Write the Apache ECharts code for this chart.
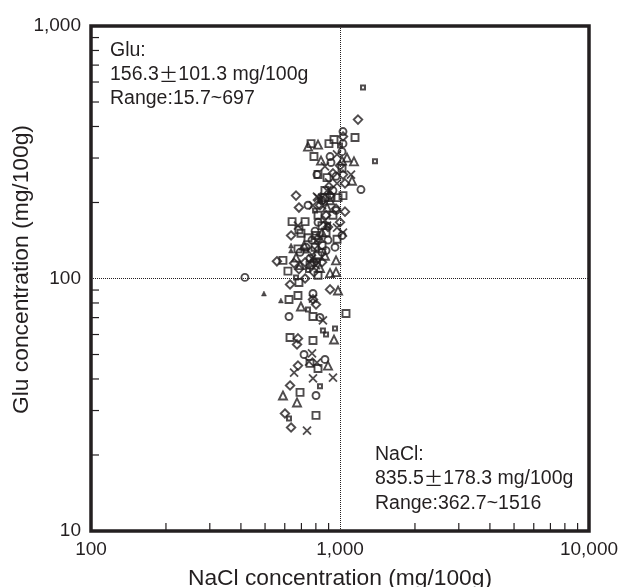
<!DOCTYPE html>
<html>
<head>
<meta charset="utf-8">
<style>html,body{margin:0;padding:0;background:#fff}#chart{width:618px;height:587px}</style>
<script src="https://cdn.jsdelivr.net/npm/echarts@6/dist/echarts.min.js"></script>
</head>
<body>
<div id="chart"></div>
<script>
// [NaCl, Glu] mg/100g
const diamonds = [[1181,426],[1028,365],[666,213],[937,261],[1028,258],[1047,238],[684,191],[1047,184],[636,148],[558,117],[654,115],[684,109],[724,100],[630,94.7],[912,90.5],[779,82.6],[801,78.9],[678,57.9],[672,54.8],[678,45.2],[630,37.7],[601,29.2],[636,25.7],[1000,167],[1000,280],[831,195],[895,160],[772,129],[847,116],[724,116],[912,213],[964,189],[816,144],[879,178],[786,106]]
const circles = [[1028,382],[1019,318],[912,304],[920,288],[1214,225],[808,258],[964,186],[730,133],[955,133],[879,129],[1019,148],[794,154],[744,195],[415,101],[779,87.2],[624,70.7],[831,70.1],[717,50],[870,47.8],[801,34.4],[847,204],[937,223],[816,167],[758,120],[847,127],[786,116],[691,127],[895,142],[772,142],[1028,342],[964,254]]
const squares = [[1149,362],[903,342],[946,355],[765,342],[786,304],[1019,273],[887,251],[816,258],[1028,213],[618,107],[590,118],[816,178],[937,178],[642,168],[724,168],[684,156],[697,151],[744,145],[973,143],[794,133],[684,96.4],[816,103],[678,131],[624,82.6],[678,85.6],[779,70.7],[1057,72.7],[630,58.4],[779,56.8],[758,46.1],[816,44],[691,35.4],[801,28.7],[870,209],[912,209],[982,209],[847,162],[801,148],[879,152],[847,135],[758,113],[816,123],[870,223]]
const smallSquares = [[1237,571],[1382,291],[744,75.4],[854,62.2],[879,60],[955,63.4],[831,37.4],[624,27.9],[744,108],[1000,336],[666,101],[831,204],[794,186],[895,162],[816,118],[730,129]]
const triangles = [[744,333],[816,339],[839,293],[1019,293],[1067,301],[1138,291],[1117,244],[887,191],[666,121],[691,113],[870,123],[964,118],[912,105],[964,106],[982,89.6],[697,77.5],[946,57.3],[895,45.2],[590,34.4],[672,32.3],[847,152],[772,116],[831,110],[912,204],[717,135]]
const smallTriangles = [[495,87.2],[579,81.8],[636,135],[636,129]]
const crosses = [[973,310],[870,278],[1107,258],[903,240],[887,223],[973,238],[808,211],[779,195],[816,209],[973,159],[1028,152],[678,162],[854,68.2],[772,50.5],[751,46.9],[808,46.4],[654,42.4],[779,40.2],[937,40.5],[737,25],[779,83.3],[847,195],[887,162],[816,135],[772,120],[831,145],[870,170],[801,113],[847,209],[912,223]]

const xMinorTicks = [200,300,400,500,600,700,800,900,2000,3000,4000,5000,6000,7000,8000,9000]
const yMinorTicks = [20,30,40,50,60,70,80,90,200,300,400,500,600,700,800,900]

const inkColor = '#231f20'
const crossPath = 'path://M0 0L10 10M10 0L0 10'

function markSeries(name, data, symbol, size, extra) {
    return Object.assign({
        name: name,
        type: 'scatter',
        data: data,
        symbol: symbol,
        symbolSize: size,
        z: 3,
        itemStyle: {color: 'rgba(255,255,255,0)', borderColor: inkColor, borderWidth: 1.9}
    }, extra)
}

// 对数轴的次刻度，朝内画
function tickSeries(values, isX) {
    return {
        type: 'custom',
        silent: true,
        z: 2,
        clip: false,
        data: values.map(v => isX ? [v, 10] : [100, v]),
        renderItem: function (params, api) {
            const p = api.coord([api.value(0), api.value(1)])
            return {
                type: 'line',
                shape: isX
                    ? {x1: p[0], y1: p[1], x2: p[0], y2: p[1] - 8}
                    : {x1: p[0], y1: p[1], x2: p[0] + 8, y2: p[1]},
                style: {stroke: inkColor, lineWidth: 1.2}
            }
        }
    }
}

// ± 用中文字体，字宽才对
function noteText(left, top, lineHeight, lines) {
    return {
        type: 'text',
        left: left,
        top: top,
        style: {
            text: lines.join('\n'),
            fill: inkColor,
            font: '19.5px "Liberation Sans"',
            lineHeight: lineHeight,
            rich: {
                pm: {font: '19.5px "Noto Sans CJK SC"', fill: inkColor, lineHeight: lineHeight}
            }
        }
    }
}

const chart = echarts.init(document.getElementById('chart'))
chart.setOption({
    animation: false,
    backgroundColor: '#fff',
    textStyle: {fontFamily: 'Liberation Sans'},
    grid: {left: 91, top: 26, width: 498, height: 505, show: true, outerBoundsMode: 'none', borderColor: inkColor, borderWidth: 3.5, backgroundColor: 'transparent'},
    xAxis: {
        type: 'log', logBase: 10, min: 100, max: 10000,
        name: 'NaCl concentration (mg/100g)', nameLocation: 'middle', nameGap: 36, nameMoveOverlap: false,
        nameTextStyle: {fontSize: 22.8, color: inkColor},
        axisLine: {show: false}, axisTick: {show: false}, splitLine: {show: false}, minorTick: {show: false},
        axisLabel: {fontSize: 19, color: inkColor, margin: 9, hideOverlap: false, formatter: v => v.toLocaleString('en-US')}
    },
    yAxis: {
        type: 'log', logBase: 10, min: 10, max: 1000,
        name: 'Glu concentration (mg/100g)', nameLocation: 'middle', nameGap: 58, nameMoveOverlap: false,
        nameTextStyle: {fontSize: 22.8, color: inkColor, padding: [0, 0, 0, 18]},
        axisLine: {show: false}, axisTick: {show: false}, splitLine: {show: false}, minorTick: {show: false},
        axisLabel: {fontSize: 19, color: inkColor, margin: 10, hideOverlap: false, formatter: v => v.toLocaleString('en-US')}
    },
    series: [
        tickSeries(xMinorTicks, true),
        tickSeries(yMinorTicks, false),
        markSeries('diamond', diamonds, 'diamond', 8.5, {
            markLine: {
                silent: true,
                symbol: 'none',
                label: {show: false},
                lineStyle: {color: inkColor, width: 1, type: [1, 1]},
                data: [{xAxis: 1000}, {yAxis: 100}]
            }
        }),
        markSeries('circle', circles, 'circle', 7),
        markSeries('square', squares, 'rect', 7),
        markSeries('smallSquare', smallSquares, 'rect', 4, {itemStyle: {color: 'rgba(255,255,255,0)', borderColor: inkColor, borderWidth: 2}}),
        markSeries('triangle', triangles, 'triangle', 8),
        markSeries('smallTriangle', smallTriangles, 'triangle', 5, {itemStyle: {color: inkColor, borderColor: inkColor, borderWidth: 0.5}}),
        markSeries('cross', crosses, crossPath, 8, {itemStyle: {color: 'none', borderColor: inkColor, borderWidth: 1.8}})
    ],
    graphic: [
        noteText(110, 39, 24, ['Glu:', '156.3{pm|\u00b1}101.3 mg/100g', 'Range:15.7~697']),
        noteText(375, 442, 24.5, ['NaCl:', '835.5{pm|\u00b1}178.3 mg/100g', 'Range:362.7~1516'])
    ]
})
</script>
</body>
</html>
